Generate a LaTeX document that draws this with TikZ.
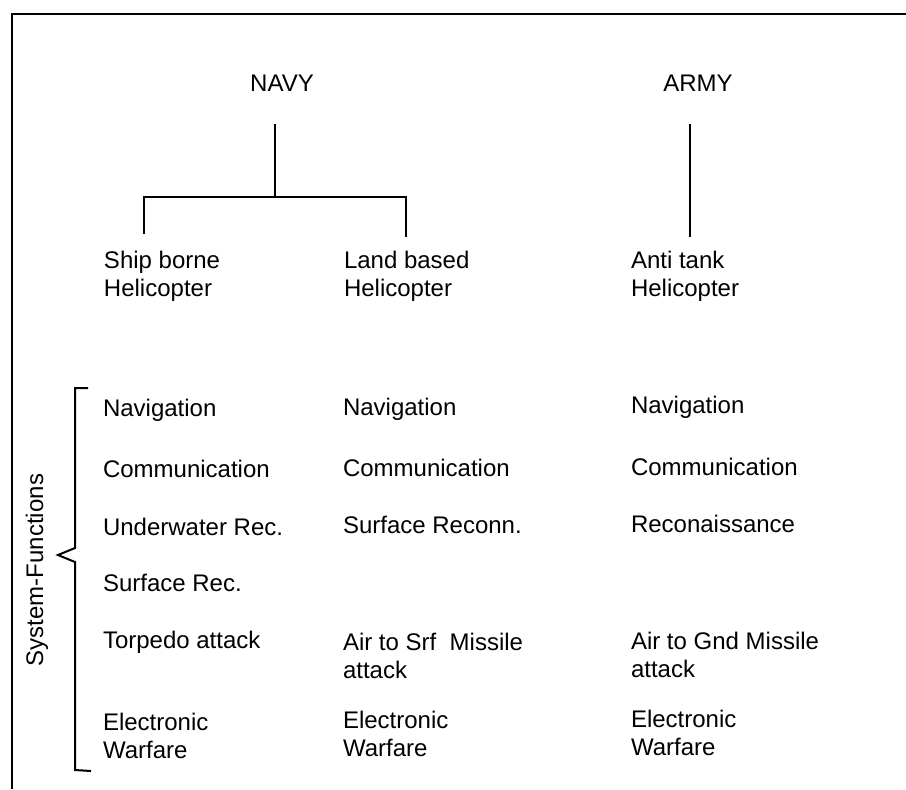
\documentclass[tikz,border=0pt]{standalone}
\usepackage{fontspec}
\setmainfont{Liberation Sans}
\usetikzlibrary{calc}
\tikzset{item/.style={anchor=west, align=left, inner sep=0pt, font=\fontsize{12}{14}\selectfont}}
\tikzset{head/.style={inner sep=0pt, font=\fontsize{12}{14}\selectfont}}

\begin{document}
\begin{tikzpicture}[x=0.5pt,y=-0.5pt,line width=1pt]
  \useasboundingbox (0,0) rectangle (906,789);
  % frame
  \draw[line width=1.25pt] (12,789) -- (12,14) -- (906,14);
  % heads
  \node[head] (navy) at (282,83) {NAVY};
  \node[head] (army) at (698,83) {ARMY};
  % helicopter types
  \node[item] (ship) at (103,276) {Ship borne\\Helicopter};
  \node[item] (land) at (343,276) {Land based\\Helicopter};
  \node[item] (tank) at (630,276) {Anti tank\\Helicopter};
  \coordinate (navyfork) at (275,197);
  \coordinate (shiptop) at (144,234);
  \coordinate (landtop) at (406,237);
  \coordinate (armytop) at (690,237);
  \draw ([yshift=-16pt]navy.south -| navyfork) -- (navyfork);
  \draw (shiptop) |- (navyfork) -| (landtop);
  \draw ([yshift=-16pt]army.south -| armytop) -- (armytop);
  % system functions
  \foreach \x/\y/\lab/\txt in {
    102/410/nav1/Navigation,
    102/469/com1/Communication,
    102/527/rec1/Underwater Rec.,
    102/583/srf1/Surface Rec.,
    102/642/att1/Torpedo attack,
    102/736/ew1/Electronic\\Warfare,
    342/409/nav2/Navigation,
    342/468/com2/Communication,
    342/525/rec2/Surface Reconn.,
    342/656/att2/Air to Srf~~Missile\\attack,
    342/734/ew2/Electronic\\Warfare,
    630/407/nav3/Navigation,
    630/467/com3/Communication,
    630/524/rec3/Reconaissance,
    630/655/att3/Air to Gnd Missile\\attack,
    630/733/ew3/Electronic\\Warfare%
  } {
    \node[item] (\lab) at (\x, \y) {\txt};
  }
  % bracket
  \coordinate (tip) at (58,555);
  \draw (88,388) -- (75,388) -- (75,548) -- (tip) -- (75,562) -- (75,770) -- (91,771);
  \node[head, rotate=90] (sysfun) at (37,570) {System-Functions};
\end{tikzpicture}
\end{document}
